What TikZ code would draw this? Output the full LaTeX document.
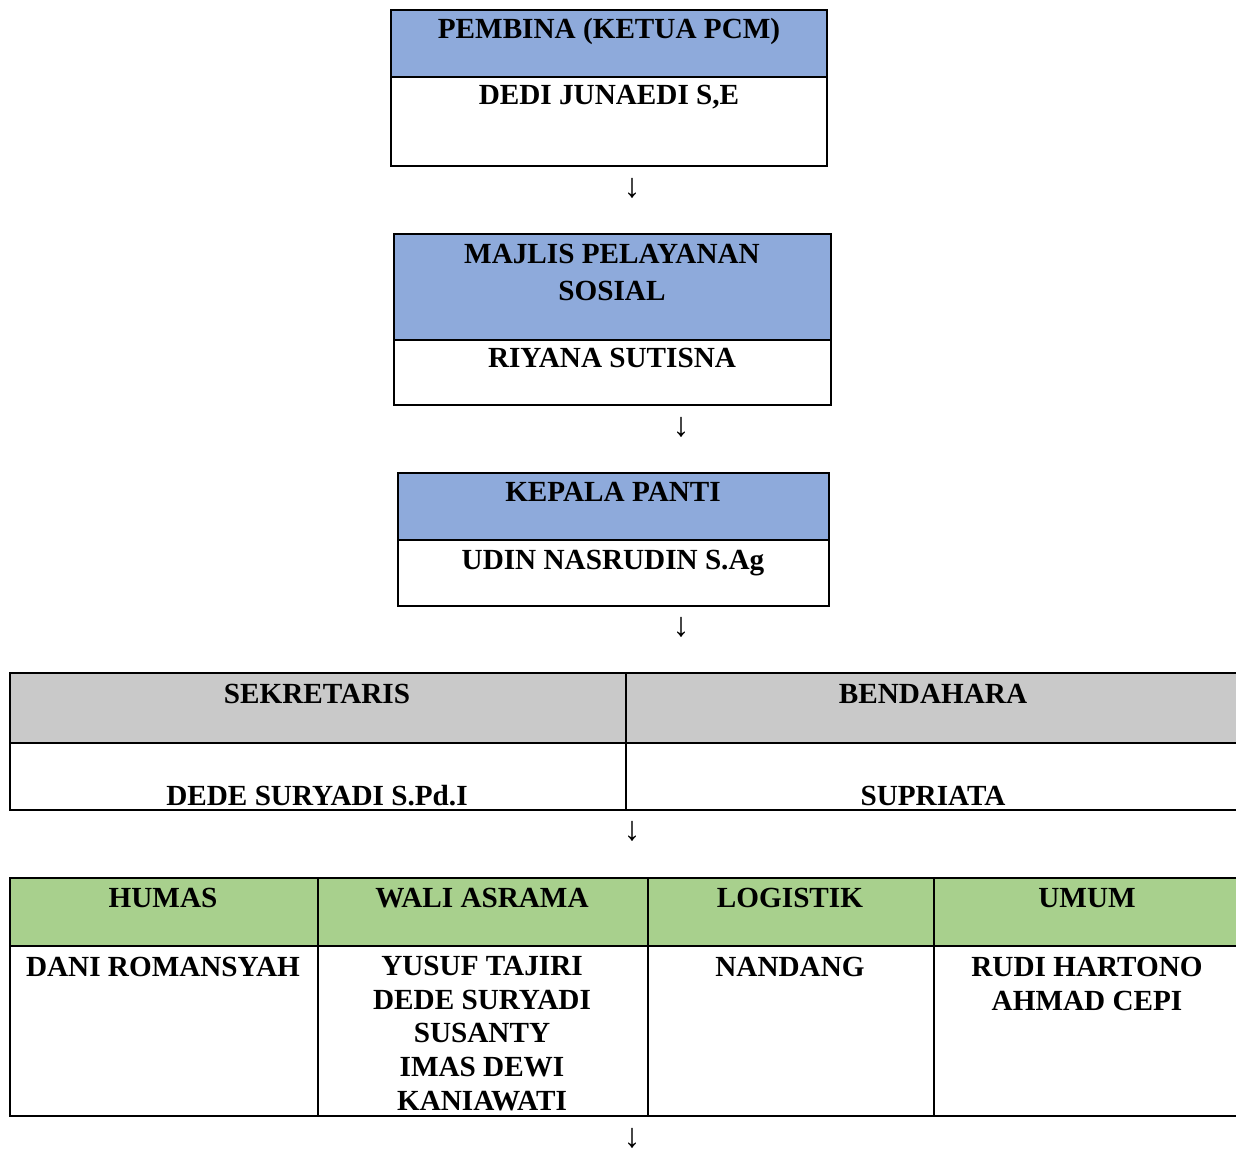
\documentclass[tikz,border=0pt]{standalone}
\usepackage{fontspec}
\setmainfont{Liberation Serif}
\definecolor{boxblue}{HTML}{8EAADB}
\definecolor{boxgray}{HTML}{C9C9C9}
\definecolor{boxgreen}{HTML}{A8D08D}

\begin{document}
\begin{tikzpicture}[x=0.5pt, y=-0.5pt,
  cell/.style={draw, line width=1pt},
  lbl/.style={font=\fontsize{14.6}{16.8}\selectfont\bfseries, inner sep=0pt, anchor=base, align=center},
  arr/.style={font=\fontsize{17}{20}\selectfont, inner sep=0pt}]
  \useasboundingbox (0,0) rectangle (1236,1149);
  % pembina
  \filldraw[cell, fill=boxblue] (391,10) rectangle (827,77);
  \draw[cell] (391,77) rectangle (827,166);
  \node[lbl] (pembina) at (609,39) {PEMBINA (KETUA PCM)};
  \node[lbl] (dedi) at (609,105) {DEDI JUNAEDI S,E};
  \node[arr] (a1) at (632,188) {↓};
  % majlis (base = last line)
  \filldraw[cell, fill=boxblue] (394,234) rectangle (831,340);
  \draw[cell] (394,340) rectangle (831,405);
  \node[lbl] (majlis) at (612,301) {MAJLIS PELAYANAN\\[2pt]SOSIAL};
  \node[lbl] (riyana) at (612,368) {RIYANA SUTISNA};
  \node[arr] (a2) at (681,427) {↓};
  % kepala panti
  \filldraw[cell, fill=boxblue] (398,473) rectangle (829,540);
  \draw[cell] (398,540) rectangle (829,606);
  \node[lbl] (kepala) at (613,502) {KEPALA PANTI};
  \node[lbl] (udin) at (613,569) {UDIN NASRUDIN S.Ag};
  \node[arr] (a3) at (681,627) {↓};
  % sekretaris, bendahara
  \filldraw[cell, fill=boxgray] (10,673) rectangle (1240,743);
  \draw[cell] (10,743) rectangle (1240,810);
  \draw[cell] (626,673) -- (626,810);
  \node[lbl] (sekretaris) at (317,703) {SEKRETARIS};
  \node[lbl] (bendahara) at (933,703) {BENDAHARA};
  \node[lbl] (dede) at (317,805) {DEDE SURYADI S.Pd.I};
  \node[lbl] (supriata) at (933,805) {SUPRIATA};
  \node[arr] (a4) at (632,831) {↓};
  % bidang
  \filldraw[cell, fill=boxgreen] (10,878) rectangle (1240,946);
  \draw[cell] (10,946) rectangle (1240,1116);
  \foreach \x in {318,648,934}
    \draw[cell] (\x,878) -- (\x,1116);
  \node[lbl] (humas) at (163,907) {HUMAS};
  \node[lbl] (wali) at (482,907) {WALI ASRAMA};
  \node[lbl] (logistik) at (790,907) {LOGISTIK};
  \node[lbl] (umum) at (1087,907) {UMUM};
  \node[lbl] (dani) at (163,976) {DANI ROMANSYAH};
  \node[lbl] (yusuf) at (482,1110) {YUSUF TAJIRI\\DEDE SURYADI\\SUSANTY\\IMAS DEWI\\KANIAWATI};
  \node[lbl] (nandang) at (790,976) {NANDANG};
  \node[lbl] (rudi) at (1087,1010) {RUDI HARTONO\\AHMAD CEPI};
  \node[arr] (a5) at (632,1138) {↓};
\end{tikzpicture}
\end{document}
